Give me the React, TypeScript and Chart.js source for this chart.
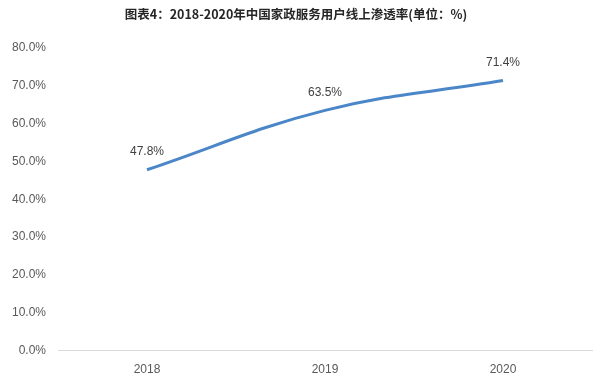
import React, { useEffect, useRef } from "react";
import { Chart, registerables } from "chart.js";

Chart.register(...registerables);

const categories = ["2018", "2019", "2020"];
const penetration = [47.8, 63.5, 71.4];
const yTicks = [0, 10, 20, 30, 40, 50, 60, 70, 80];
const titleText = "图表4：2018-2020年中国家政服务用户线上渗透率(单位：%)";

const labelPlugin = {
  id: "pointLabels",
  afterDatasetsDraw(chart: any) {
    const ctx = chart.ctx;
    const meta = chart.getDatasetMeta(0);
    ctx.save();
    ctx.font = "12px 'Liberation Sans', Arial, sans-serif";
    ctx.fillStyle = "#404040";
    ctx.textAlign = "center";
    ctx.textBaseline = "bottom";
    meta.data.forEach((pt: any, i: number) => {
      ctx.fillText(penetration[i].toFixed(1) + "%", pt.x, pt.y - 12);
    });
    ctx.restore();
  },
};

export default function App() {
  const ref = useRef<HTMLCanvasElement>(null);
  useEffect(() => {
    document.body.style.margin = "0";
    const chart = new Chart(ref.current!, {
      type: "line",
      data: {
        labels: categories,
        datasets: [
          {
            data: penetration,
            borderColor: "#4a86c8",
            borderWidth: 3,
            pointRadius: 0,
            tension: 0.4,
            fill: false,
          },
        ],
      },
      options: {
        animation: false,
        responsive: false,
        layout: { padding: { left: 0, right: 8, top: 1, bottom: -5 } },
        plugins: {
          legend: { display: false },
          tooltip: { enabled: false },
          title: {
            display: true,
            text: titleText,
            color: "#262626",
            font: { size: 12.5, weight: "bold", family: "'Noto Sans CJK SC', sans-serif" },
            padding: { top: 6, bottom: 26 },
          },
        },
        scales: {
          x: {
            offset: true,
            grid: { display: false, drawTicks: false },
            border: { display: true, color: "#d9d9d9" },
            ticks: {
              color: "#595959",
              padding: 12,
              font: { size: 12, family: "'Liberation Sans', Arial, sans-serif" },
            },
          },
          y: {
            min: 0,
            max: 80,
            afterBuildTicks: (axis: any) => {
              axis.ticks = yTicks.map((v) => ({ value: v }));
            },
            grid: { display: false, drawTicks: false },
            border: { display: false },
            ticks: {
              color: "#595959",
              padding: 12,
              font: { size: 12, family: "'Liberation Sans', Arial, sans-serif" },
              callback: (v: any) => Number(v).toFixed(1) + "%",
            },
          },
        },
      },
      plugins: [labelPlugin],
    });
    return () => chart.destroy();
  }, []);
  return (
    <div style={{ width: 600, height: 384 }}>
      <canvas ref={ref} width={600} height={384} />
    </div>
  );
}
